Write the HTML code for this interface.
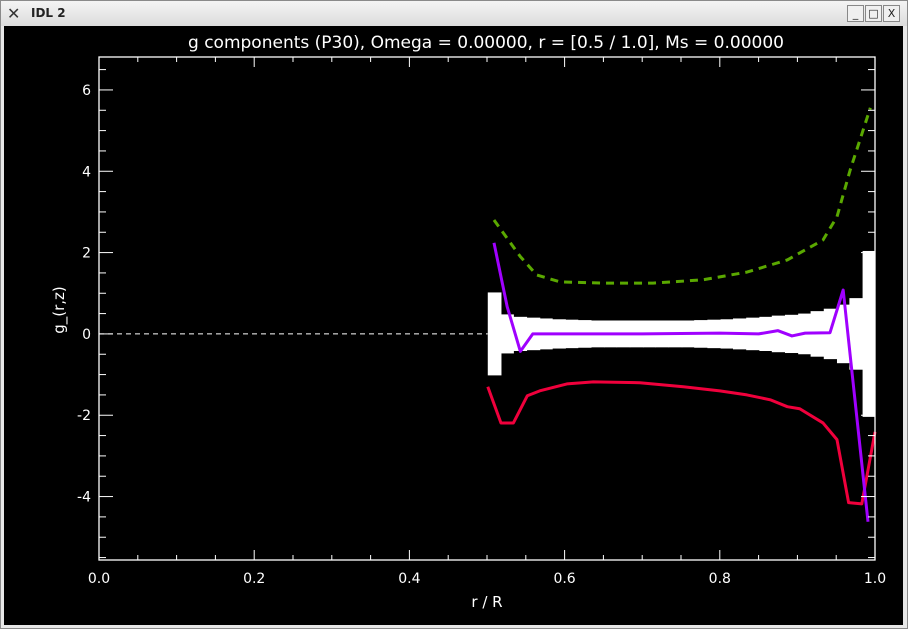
<!DOCTYPE html>
<html><head><meta charset="utf-8"><style>
body{margin:0;width:908px;height:629px;overflow:hidden;background:#d4d4d4;font-family:"DejaVu Sans","Liberation Sans",sans-serif}
#win{position:absolute;left:0;top:0;width:906px;height:627px;border:1px solid #8a8a8a;background:#e8e8e8}
#tb{position:absolute;left:0;top:0;width:906px;height:25px;background:linear-gradient(#f4f4f4,#dcdcdc)}
#tt{position:absolute;left:30px;top:5px;font-size:12px;font-weight:bold;color:#222}
.wb{position:absolute;top:4px;width:15px;height:15px;border:1px solid #888;background:#f0f0f0;font-size:11px;line-height:15px;text-align:center;color:#222}
svg{position:absolute;left:4px;top:26px}
</style></head><body>
<div id="win">
<div id="tb">
<div style="position:absolute;left:6px;top:3px;font-size:16px;color:#333">✕</div>
<div id="tt">IDL 2</div>
<div class="wb" style="left:846px">_</div>
<div class="wb" style="left:864px">□</div>
<div class="wb" style="left:882px">X</div>
</div>
</div>
<svg id="ch" width="899" height="599"></svg>
<script>
const bandR=[0.501,0.518,0.534,0.551,0.568,0.584,0.601,0.617,0.634,0.651,0.667,0.684,0.701,0.717,0.734,0.751,0.767,0.784,0.801,0.817,0.834,0.851,0.867,0.884,0.901,0.917,0.934,0.951,0.967,0.984,1.0];
const bandHalf=[1.02,0.48,0.42,0.40,0.38,0.36,0.35,0.34,0.33,0.33,0.33,0.33,0.33,0.33,0.33,0.33,0.34,0.35,0.36,0.38,0.40,0.42,0.45,0.47,0.50,0.56,0.62,0.72,0.88,2.04];
const greenR=[0.509,0.543,0.564,0.594,0.649,0.714,0.778,0.835,0.887,0.933,0.951,0.968,0.994];
const greenV=[2.80,1.90,1.45,1.28,1.25,1.25,1.33,1.52,1.82,2.31,2.88,4.03,5.56];
const purpleR=[0.509,0.526,0.543,0.559,0.60,0.70,0.80,0.85,0.875,0.893,0.91,0.942,0.959,0.991];
const purpleV=[2.24,0.67,-0.43,0.0,0.0,0.0,0.02,0.0,0.08,-0.05,0.02,0.03,1.08,-4.62];
const redR=[0.501,0.518,0.534,0.552,0.568,0.603,0.637,0.697,0.753,0.800,0.835,0.865,0.887,0.903,0.933,0.951,0.966,0.983,1.0];
const redV=[-1.30,-2.19,-2.19,-1.52,-1.40,-1.23,-1.18,-1.20,-1.30,-1.40,-1.50,-1.62,-1.79,-1.84,-2.19,-2.60,-4.15,-4.18,-2.41];
const xTicks=[0,0.2,0.4,0.6,0.8,1.0];
const xTickLabels=["0.0","0.2","0.4","0.6","0.8","1.0"];
const yTicks=[-4,-2,0,2,4,6];
const yTickLabels=["-4","-2","0","2","4","6"];
const OX=4,OY=26;
const L=99-OX,R=875-OX,T=57-OY,B=560-OY;
const xmin=0,xmax=1,ymin=-5.56,ymax=6.81;
const X=v=>L+(v-xmin)/(xmax-xmin)*(R-L);
const Y=v=>B-(v-ymin)/(ymax-ymin)*(B-T);
const s=document.getElementById('ch');const NS='http://www.w3.org/2000/svg';
function mk(t,a,n){const e=document.createElementNS(NS,t);for(const k in a)e.setAttribute(k,a[k]);


s.appendChild(e);return e;}
mk('rect',{x:0,y:0,width:899,height:599,fill:'#000'},'plot-background');
// band
for(let i=0;i<bandHalf.length;i++){mk('rect',{x:X(bandR[i]),y:Y(bandHalf[i]),width:X(bandR[i+1])-X(bandR[i])+0.5,height:Y(-bandHalf[i])-Y(bandHalf[i]),fill:'#fff'},'error-band-bin');}
mk('line',{x1:X(0),y1:Y(0),x2:X(bandR[0]),y2:Y(0),stroke:'#fff','stroke-width':1,'stroke-dasharray':'5,4'},'zero-line');
function pl(rs,vs,c,n,d){const p=rs.map((r,i)=>X(r)+','+Y(vs[i])).join(' ');const a={points:p,fill:'none',stroke:c,'stroke-width':3,'stroke-linejoin':'round'};if(d)a['stroke-dasharray']=d;mk('polyline',a,n);}
pl(greenR,greenV,'#5aa800','green-dashed-series','8,6');
pl(redR,redV,'#f0003c','red-series');
pl(purpleR,purpleV,'#a000ff','purple-series');
mk('rect',{x:L,y:T,width:R-L,height:B-T,fill:'none',stroke:'#fff','stroke-width':1.3},'axis-box');
for(let v=0;v<=1.0001;v+=0.05){const maj=Math.abs(v*5-Math.round(v*5))<1e-6;const len=maj?10:5;
mk('line',{x1:X(v),y1:B,x2:X(v),y2:B-len,stroke:'#fff'},'x-tick');mk('line',{x1:X(v),y1:T,x2:X(v),y2:T+len,stroke:'#fff'},'x-tick-top');}
for(let v=-5.5;v<=6.51;v+=0.5){const maj=Math.abs(v/2-Math.round(v/2))<1e-6;const len=maj?14:7;
mk('line',{x1:L,y1:Y(v),x2:L+len,y2:Y(v),stroke:'#fff'},'y-tick');mk('line',{x1:R,y1:Y(v),x2:R-len,y2:Y(v),stroke:'#fff'},'y-tick-right');}
xTicks.forEach((v,i)=>{const t=mk('text',{x:X(v),y:B+23,fill:'#fff','font-size':14,'text-anchor':'middle','font-family':'DejaVu Sans, Liberation Sans, sans-serif'},'x-tick-label');t.textContent=xTickLabels[i];});
yTicks.forEach((v,i)=>{const t=mk('text',{x:L-8,y:Y(v)+5,fill:'#fff','font-size':14,'text-anchor':'end','font-family':'DejaVu Sans, Liberation Sans, sans-serif'},'y-tick-label');t.textContent=yTickLabels[i];});
let t=mk('text',{x:486-OX,y:48-OY,fill:'#fff','font-size':17,'text-anchor':'middle','font-family':'DejaVu Sans, Liberation Sans, sans-serif'},'chart-title');t.textContent='g components (P30), Omega =  0.00000, r = [0.5 / 1.0], Ms =  0.00000';
t=mk('text',{x:487-OX,y:607-OY,fill:'#fff','font-size':15,'text-anchor':'middle','font-family':'DejaVu Sans, Liberation Sans, sans-serif'},'x-axis-title');t.textContent='r / R';
t=mk('text',{x:0,y:0,fill:'#fff','font-size':15,'text-anchor':'middle','font-family':'DejaVu Sans, Liberation Sans, sans-serif',transform:'translate('+(64-OX)+','+(310-OY)+') rotate(-90)'},'y-axis-title');t.textContent='g_(r,z)';
</script>
</body></html>
